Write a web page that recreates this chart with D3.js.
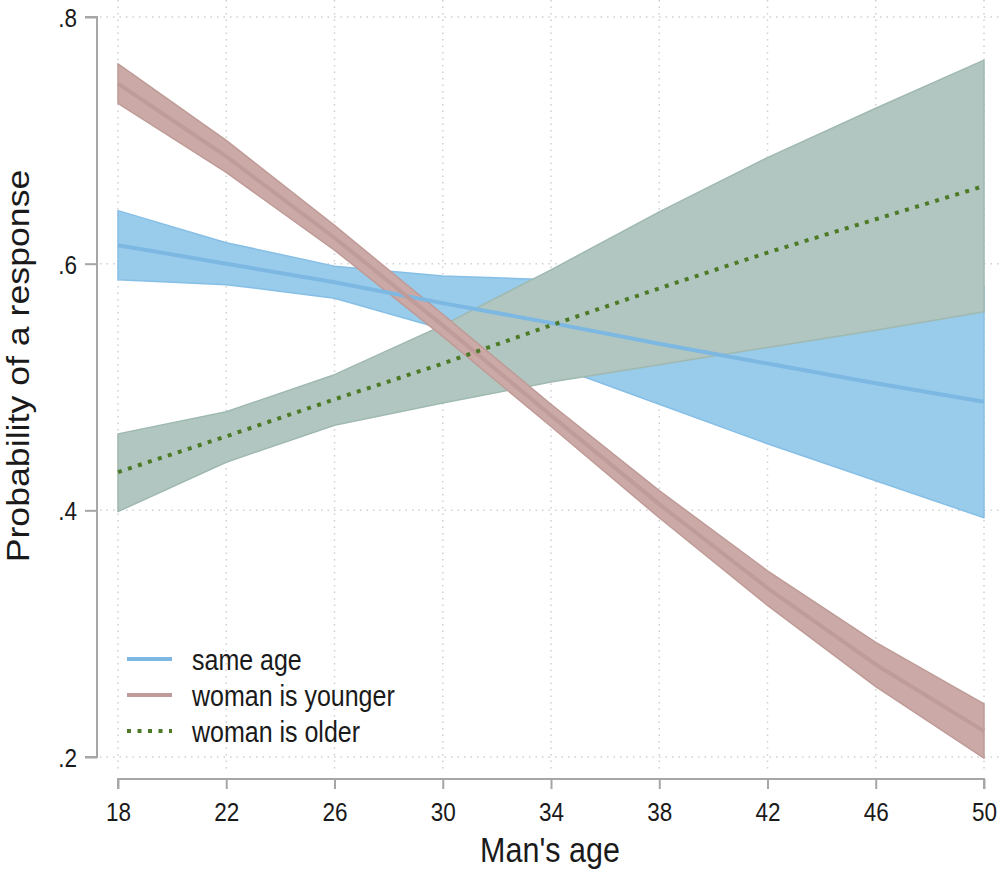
<!DOCTYPE html>
<html>
<head>
<meta charset="utf-8">
<script src="https://cdn.jsdelivr.net/npm/d3@7"></script>
<style>
  body { margin: 0; background: #fff; }
  svg { font-family: "Liberation Sans", Arial, sans-serif; }
</style>
</head>
<body>
<div id="chart"></div>
<script>
// man's age at which margins were evaluated
const ages = [18, 22, 26, 30, 34, 38, 42, 46, 50];

// same age
const sameMid = [0.615, 0.600, 0.585, 0.568, 0.552, 0.535, 0.519, 0.503, 0.488];
const sameLo = [0.587, 0.583, 0.572, 0.547, 0.518, 0.486, 0.454, 0.424, 0.394];
const sameHi = [0.643, 0.617, 0.598, 0.590, 0.587, 0.585, 0.584, 0.583, 0.582];

// woman is younger
const youngerMid = [0.746, 0.687, 0.621, 0.550, 0.477, 0.405, 0.337, 0.275, 0.221];
const youngerLo = [0.730, 0.674, 0.611, 0.541, 0.468, 0.394, 0.323, 0.257, 0.199];
const youngerHi = [0.762, 0.700, 0.631, 0.559, 0.486, 0.416, 0.351, 0.293, 0.243];

// woman is older
const olderMid = [0.431, 0.460, 0.490, 0.519, 0.550, 0.580, 0.609, 0.636, 0.663];
const olderLo = [0.399, 0.439, 0.469, 0.487, 0.504, 0.518, 0.532, 0.546, 0.561];
const olderHi = [0.462, 0.480, 0.510, 0.550, 0.595, 0.642, 0.686, 0.726, 0.765];

const xTicks = [18, 22, 26, 30, 34, 38, 42, 46, 50];
const yTicks = [0.2, 0.4, 0.6, 0.8];
const legendLabels = ['same age', 'woman is younger', 'woman is older'];

const width = 999;
const height = 870;
// the picture is a bit taller than wide, so glyphs get stretched vertically
const stretch = 1.17;

const svg = d3.select('#chart').append('svg').attr('width', width).attr('height', height);

const x = d3.scaleLinear().domain([18, 50]).range([118, 984]);
const y = d3.scaleLinear().domain([0.2, 0.8]).range([757, 17]);

const textColor = '#1a1a1a';
const axisColor = '#a6a6a6';
const gridColor = '#d0d0d0';

// gridlines
const grid = svg.append('g').attr('class', 'grid');
grid
  .selectAll('line.vgrid')
  .data(xTicks)
  .enter()
  .append('line')
  .attr('x1', (d) => x(d))
  .attr('x2', (d) => x(d))
  .attr('y1', 0)
  .attr('y2', 772)
  .attr('stroke', gridColor)
  .attr('stroke-width', 1.5)
  .attr('stroke-dasharray', '1.5,5');
grid
  .selectAll('line.hgrid')
  .data(yTicks)
  .enter()
  .append('line')
  .attr('x1', 100)
  .attr('x2', 999)
  .attr('y1', (d) => y(d))
  .attr('y2', (d) => y(d))
  .attr('stroke', gridColor)
  .attr('stroke-width', 1.5)
  .attr('stroke-dasharray', '1.5,5');

const makeRows = (lo, hi, mid) => ages.map((a, i) => ({ age: a, lo: lo[i], hi: hi[i], mid: mid[i] }));

const series = [
  { name: 'same', rows: makeRows(sameLo, sameHi, sameMid), fill: '#99cbeb', edge: '#86bfe6', line: '#7db8e3', dash: null },
  { name: 'older', rows: makeRows(olderLo, olderHi, olderMid), fill: '#b1c6c0', edge: '#9fb9b1', line: '#4d7a26', dash: '4,6.5' },
  { name: 'younger', rows: makeRows(youngerLo, youngerHi, youngerMid), fill: '#caa9a6', edge: '#bf9b97', line: '#bf9c99', dash: null },
];

const area = d3
  .area()
  .x((d) => x(d.age))
  .y0((d) => y(d.lo))
  .y1((d) => y(d.hi));

const line = d3
  .line()
  .x((d) => x(d.age))
  .y((d) => y(d.mid));

const bands = svg.append('g').attr('class', 'bands');
series.forEach((s) => {
  bands
    .append('path')
    .datum(s.rows)
    .attr('d', area)
    .attr('fill', s.fill)
    .attr('stroke', s.edge)
    .attr('stroke-width', 1.5)
    .attr('stroke-linejoin', 'round');
});

// estimate lines on top of all bands
const lineOrder = [series[0], series[2], series[1]];
const lines = svg.append('g').attr('class', 'lines');
lineOrder.forEach((s) => {
  lines
    .append('path')
    .datum(s.rows)
    .attr('d', line)
    .attr('fill', 'none')
    .attr('stroke', s.line)
    .attr('stroke-width', 4)
    .attr('stroke-dasharray', s.dash);
});

// y axis
const yAxis = svg
  .append('g')
  .attr('transform', 'translate(97,0)')
  .call(
    d3
      .axisLeft(y)
      .tickValues(yTicks)
      .tickSize(12)
      .tickFormat((d) => d3.format('.1f')(d).replace(/^0/, ''))
  );
yAxis.select('.domain').attr('stroke', axisColor).attr('stroke-width', 2).attr('d', `M-12,${y(0.2)}H0V${y(0.8)}H-12`);
yAxis.selectAll('.tick line').attr('stroke', axisColor).attr('stroke-width', 2);
yAxis
  .selectAll('.tick text')
  .attr('x', 0)
  .attr('dy', '0.36em')
  .attr('transform', `translate(-20,0) scale(1,${stretch})`)
  .attr('fill', textColor)
  .attr('font-size', 22.5)
  .attr('font-family', '"Liberation Sans", Arial, sans-serif');

// x axis
const xAxis = svg
  .append('g')
  .attr('transform', 'translate(0,779)')
  .call(d3.axisBottom(x).tickValues(xTicks).tickSize(10));
xAxis.select('.domain').attr('stroke', axisColor).attr('stroke-width', 2).attr('d', `M${x(18)},10V0H${x(50)}V10`);
xAxis.selectAll('.tick line').attr('stroke', axisColor).attr('stroke-width', 2);
xAxis
  .selectAll('.tick text')
  .attr('y', 0)
  .attr('dy', null)
  .attr('transform', `translate(0,42) scale(1,${stretch})`)
  .attr('fill', textColor)
  .attr('font-size', 22.5)
  .attr('font-family', '"Liberation Sans", Arial, sans-serif');

// axis titles
svg
  .append('text')
  .attr('transform', `translate(550,862) scale(1,${stretch})`)
  .attr('text-anchor', 'middle')
  .attr('fill', textColor)
  .attr('font-size', 30.5)
  .text("Man's age");
svg
  .append('text')
  .attr('transform', `translate(29,366) rotate(-90) scale(${stretch},1)`)
  .attr('text-anchor', 'middle')
  .attr('fill', textColor)
  .attr('font-size', 30.5)
  .text('Probability of a response');

// legend
const legendItems = [
  { label: legendLabels[0], color: '#7db8e3', dash: null },
  { label: legendLabels[1], color: '#bf9c99', dash: null },
  { label: legendLabels[2], color: '#4d7a26', dash: '4,6.5' },
];
const legend = svg.append('g').attr('transform', 'translate(127,659)');
const item = legend
  .selectAll('g.item')
  .data(legendItems)
  .enter()
  .append('g')
  .attr('class', 'item')
  .attr('transform', (d, i) => `translate(0,${i * 36})`);
item
  .append('line')
  .attr('x1', 0)
  .attr('x2', 45)
  .attr('stroke', (d) => d.color)
  .attr('stroke-width', 4)
  .attr('stroke-dasharray', (d) => d.dash);
item
  .append('text')
  .attr('transform', `translate(65,0) scale(1,${stretch})`)
  .attr('dy', '0.36em')
  .attr('fill', textColor)
  .attr('font-size', 25)
  .text((d) => d.label);
</script>
</body>
</html>
